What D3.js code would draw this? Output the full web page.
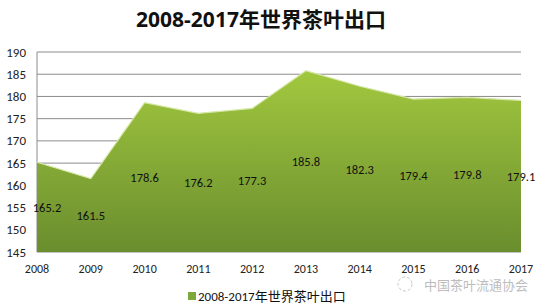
<!DOCTYPE html>
<html><head><meta charset="utf-8">
<script src="https://cdn.jsdelivr.net/npm/d3@7"></script>
<style>body{margin:0;background:#fff}svg{display:block}</style>
</head><body>
<script>
const years = ["2008","2009","2010","2011","2012","2013","2014","2015","2016","2017"];
const exportsVal = [165.2,161.5,178.6,176.2,177.3,185.8,182.3,179.4,179.8,179.1];
const yTicks = [145,150,155,160,165,170,175,180,185,190];
const title = "2008-2017年世界茶叶出口";
const seriesName = "2008-2017年世界茶叶出口";
const watermark = "中国茶叶流通协会";

(function(){
const W = 544, H = 304;
const svg = d3.select("body").append("svg").attr("width", W).attr("height", H);
const pL = 37, pR = 521, pT = 52, pB = 252;
const font = "Calibri, Carlito, 'Open Sans', 'Noto Sans CJK SC', sans-serif";

const x = d3.scalePoint().domain(years).range([pL, pR]);
const y = d3.scaleLinear().domain([145, 190]).range([pB, pT]);

const defs = svg.append("defs");
const g = defs.append("linearGradient").attr("id","grad").attr("x1",0).attr("y1",0).attr("x2",0).attr("y2",1);
g.append("stop").attr("offset","0%").attr("stop-color","#a2c83f");
g.append("stop").attr("offset","100%").attr("stop-color","#6a8d2e");

// title
svg.append("text").attr("x", 261).attr("y", 27).attr("text-anchor","middle")
  .style("font-family", "'Open Sans', 'Noto Sans CJK SC', sans-serif").style("font-weight","bold")
  .style("font-size","21px").attr("fill","#111").text(title);

// gridlines
svg.append("g").selectAll("line").data(yTicks).join("line")
  .attr("x1", pL).attr("x2", pR).attr("y1", d=>y(d)).attr("y2", d=>y(d))
  .attr("stroke","#8c8c8c").attr("stroke-width",1);
svg.append("line").attr("x1",pL).attr("x2",pL).attr("y1",pT).attr("y2",pB).attr("stroke","#8c8c8c");

// area
const area = d3.area().x((d,i)=>x(years[i])).y0(pB).y1(d=>y(d));
svg.append("path").datum(exportsVal).attr("d", area).attr("fill","url(#grad)");
const line = d3.line().x((d,i)=>x(years[i])).y(d=>y(d));
svg.append("path").datum(exportsVal).attr("d", line).attr("fill","none").attr("stroke","#d6e8a8").attr("stroke-width",1.2);

// y axis labels
svg.append("g").selectAll("text").data(yTicks).join("text")
  .attr("x", 26).attr("y", d=>y(d)+4.5).attr("text-anchor","end")
  .style("font-family", font).style("font-size","13px").attr("fill","#222").text(d=>d);

// x axis labels
svg.append("g").selectAll("text").data(years).join("text")
  .attr("x", d=>x(d)).attr("y", 273).attr("text-anchor","middle")
  .style("font-family", font).style("font-size","12px").attr("fill","#222").text(d=>d);

// data labels
svg.append("g").selectAll("text").data(exportsVal).join("text")
  .attr("x", (d,i)=> i===0 ? x(years[i])+10 : x(years[i]))
  .attr("y", d=> y((d+145)/2)+4.5).attr("text-anchor","middle")
  .style("font-family", font).style("font-size","12.5px").attr("fill","#111").text(d=>d.toFixed(1));

// legend
svg.append("rect").attr("x",188).attr("y",292).attr("width",8).attr("height",8).attr("fill","#7ea83a");
svg.append("text").attr("x",198).attr("y",300.5)
  .style("font-family", font).style("font-size","13px").attr("fill","#111").text(seriesName);

// watermark
const wm = svg.append("g").attr("opacity",0.55);
wm.append("circle").attr("cx",405).attr("cy",284).attr("r",7).attr("fill","none").attr("stroke","#999").attr("stroke-width",1).attr("stroke-dasharray","3,2");
wm.append("text").attr("x",424).attr("y",290).style("font-family","'Noto Sans CJK SC', sans-serif")
  .style("font-size","13px").attr("fill","#888").text(watermark);
})();
</script>
</body></html>
